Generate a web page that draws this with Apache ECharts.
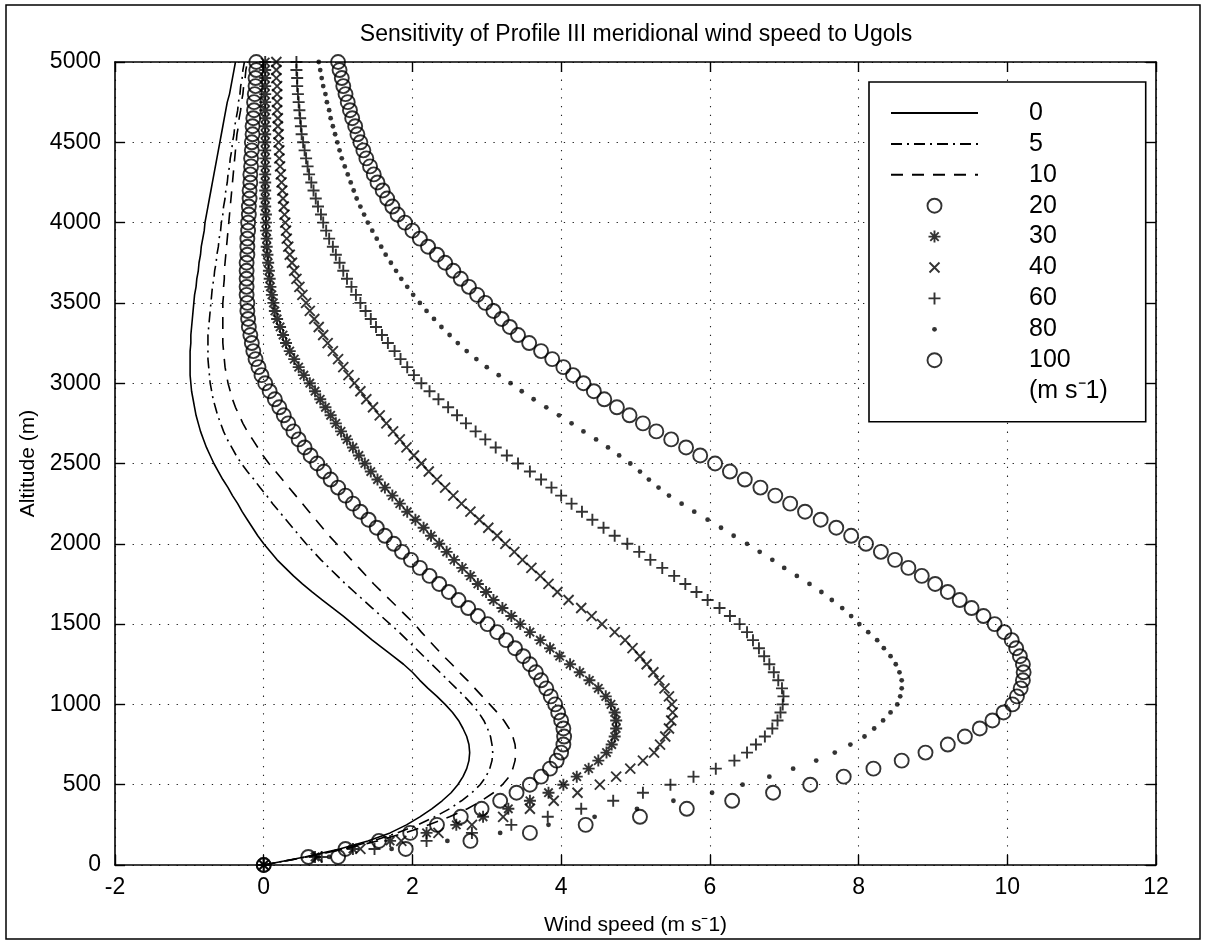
<!DOCTYPE html>
<html><head><meta charset="utf-8">
<script src="https://cdn.jsdelivr.net/npm/echarts@6/dist/echarts.min.js"></script>
<style>html,body{margin:0;padding:0;background:#fff}#c{width:1206px;height:941px}</style>
</head><body><div id="c"></div>
<script>
// Altitude levels (m)
const altitude = [
0,50,100,150,200,250,300,350,400,450,
500,550,600,650,700,750,800,850,900,950,
1000,1050,1100,1150,1200,1250,1300,1350,1400,1450,
1500,1550,1600,1650,1700,1750,1800,1850,1900,1950,
2000,2050,2100,2150,2200,2250,2300,2350,2400,2450,
2500,2550,2600,2650,2700,2750,2800,2850,2900,2950,
3000,3050,3100,3150,3200,3250,3300,3350,3400,3450,
3500,3550,3600,3650,3700,3750,3800,3850,3900,3950,
4000,4050,4100,4150,4200,4250,4300,4350,4400,4450,
4500,4550,4600,4650,4700,4750,4800,4850,4900,4950,
5000];

// Wind speed (m/s) for each Ugols value
const u0 = [
0,0.55,1.02,1.40,1.70,1.92,2.10,2.26,2.40,2.52,
2.61,2.68,2.73,2.76,2.77,2.76,2.73,2.68,2.62,2.54,
2.44,2.33,2.21,2.10,2.00,1.88,1.74,1.60,1.46,1.33,
1.20,1.07,0.93,0.79,0.65,0.52,0.40,0.29,0.18,0.09,
0.00,-0.08,-0.15,-0.22,-0.29,-0.35,-0.42,-0.48,-0.55,-0.61,
-0.67,-0.72,-0.77,-0.81,-0.85,-0.88,-0.91,-0.93,-0.95,-0.97,
-0.98,-0.99,-0.99,-0.99,-0.99,-0.98,-0.98,-0.97,-0.96,-0.95,
-0.94,-0.93,-0.91,-0.90,-0.88,-0.87,-0.85,-0.84,-0.82,-0.80,
-0.79,-0.77,-0.75,-0.73,-0.71,-0.69,-0.67,-0.65,-0.63,-0.61,
-0.59,-0.57,-0.55,-0.53,-0.51,-0.49,-0.46,-0.44,-0.42,-0.40,
-0.38];
const u5 = [
0,0.57,1.06,1.47,1.80,2.07,2.30,2.50,2.66,2.80,
2.91,2.99,3.04,3.07,3.08,3.07,3.05,3.01,2.96,2.89,
2.80,2.70,2.59,2.48,2.37,2.26,2.15,2.04,1.93,1.82,
1.70,1.58,1.46,1.34,1.22,1.10,0.99,0.88,0.77,0.67,
0.57,0.48,0.39,0.30,0.21,0.12,0.04,-0.05,-0.13,-0.22,
-0.30,-0.37,-0.43,-0.49,-0.54,-0.58,-0.62,-0.65,-0.68,-0.70,
-0.72,-0.73,-0.74,-0.75,-0.75,-0.75,-0.75,-0.74,-0.73,-0.72,
-0.71,-0.70,-0.69,-0.67,-0.66,-0.64,-0.63,-0.61,-0.60,-0.58,
-0.57,-0.55,-0.54,-0.52,-0.51,-0.49,-0.48,-0.46,-0.45,-0.43,
-0.42,-0.40,-0.39,-0.37,-0.35,-0.34,-0.32,-0.31,-0.29,-0.28,
-0.26];
const u10 = [
0,0.58,1.09,1.53,1.90,2.22,2.50,2.74,2.93,3.09,
3.21,3.30,3.35,3.38,3.39,3.38,3.35,3.30,3.23,3.14,
3.04,2.94,2.84,2.74,2.63,2.53,2.42,2.32,2.22,2.12,
2.03,1.92,1.81,1.70,1.59,1.48,1.38,1.28,1.18,1.08,
0.98,0.88,0.79,0.70,0.61,0.52,0.43,0.34,0.25,0.16,
0.07,-0.01,-0.08,-0.15,-0.22,-0.28,-0.33,-0.38,-0.42,-0.45,
-0.48,-0.50,-0.52,-0.53,-0.54,-0.55,-0.55,-0.55,-0.55,-0.55,
-0.55,-0.54,-0.54,-0.53,-0.53,-0.52,-0.51,-0.50,-0.49,-0.48,
-0.47,-0.46,-0.45,-0.44,-0.43,-0.42,-0.41,-0.40,-0.39,-0.38,
-0.37,-0.36,-0.34,-0.33,-0.31,-0.30,-0.28,-0.27,-0.25,-0.24,
-0.22];
const u20 = [
0,0.60,1.10,1.55,1.97,2.33,2.65,2.93,3.18,3.40,
3.58,3.73,3.85,3.94,4.00,4.03,4.04,4.03,4.00,3.96,
3.92,3.86,3.80,3.73,3.66,3.58,3.49,3.38,3.26,3.14,
3.01,2.88,2.75,2.62,2.49,2.36,2.23,2.10,1.98,1.86,
1.75,1.63,1.52,1.41,1.30,1.20,1.10,1.00,0.90,0.81,
0.72,0.63,0.55,0.47,0.40,0.33,0.27,0.21,0.15,0.08,
0.02,-0.03,-0.07,-0.11,-0.14,-0.16,-0.18,-0.20,-0.21,-0.22,
-0.22,-0.23,-0.23,-0.23,-0.23,-0.23,-0.22,-0.22,-0.22,-0.21,
-0.21,-0.20,-0.20,-0.19,-0.19,-0.18,-0.18,-0.17,-0.17,-0.16,
-0.16,-0.15,-0.15,-0.14,-0.13,-0.13,-0.12,-0.11,-0.11,-0.10,
-0.10];
const u30 = [
0,0.69,1.20,1.70,2.19,2.59,2.95,3.29,3.58,3.83,
4.03,4.21,4.37,4.50,4.61,4.68,4.72,4.74,4.74,4.72,
4.67,4.60,4.50,4.38,4.25,4.12,3.98,3.85,3.72,3.58,
3.45,3.33,3.21,3.09,2.99,2.88,2.78,2.67,2.56,2.46,
2.36,2.25,2.15,2.04,1.93,1.83,1.73,1.63,1.53,1.44,
1.36,1.28,1.20,1.12,1.04,0.97,0.90,0.83,0.76,0.69,
0.62,0.54,0.47,0.41,0.35,0.30,0.26,0.22,0.18,0.15,
0.13,0.11,0.09,0.08,0.07,0.06,0.05,0.04,0.04,0.03,
0.03,0.03,0.02,0.02,0.02,0.02,0.02,0.02,0.02,0.02,
0.02,0.02,0.02,0.02,0.02,0.02,0.02,0.02,0.02,0.02,
0.02];
const u40 = [
0,0.72,1.30,1.85,2.35,2.80,3.22,3.58,3.90,4.22,
4.52,4.74,4.93,5.10,5.25,5.33,5.40,5.45,5.48,5.50,
5.49,5.45,5.39,5.32,5.24,5.15,5.06,4.96,4.86,4.72,
4.55,4.41,4.27,4.10,3.95,3.83,3.72,3.60,3.48,3.37,
3.25,3.14,3.02,2.90,2.78,2.66,2.55,2.44,2.33,2.22,
2.12,2.02,1.92,1.83,1.74,1.65,1.56,1.47,1.38,1.30,
1.22,1.14,1.07,1.00,0.93,0.86,0.80,0.74,0.68,0.62,
0.57,0.52,0.48,0.44,0.41,0.38,0.35,0.33,0.31,0.30,
0.29,0.28,0.27,0.26,0.25,0.24,0.23,0.22,0.21,0.21,
0.20,0.20,0.19,0.19,0.18,0.18,0.18,0.18,0.17,0.17,
0.17];
const u60 = [
0,0.78,1.49,2.19,2.80,3.33,3.82,4.27,4.70,5.10,
5.47,5.78,6.08,6.33,6.50,6.62,6.74,6.84,6.91,6.95,
6.98,6.99,6.97,6.92,6.86,6.80,6.73,6.66,6.58,6.50,
6.40,6.27,6.13,5.97,5.82,5.67,5.52,5.36,5.20,5.05,
4.89,4.72,4.57,4.42,4.28,4.14,4.00,3.87,3.73,3.58,
3.42,3.27,3.12,2.98,2.85,2.72,2.60,2.48,2.35,2.23,
2.12,2.02,1.93,1.84,1.76,1.67,1.59,1.51,1.44,1.37,
1.30,1.24,1.18,1.12,1.07,1.02,0.97,0.93,0.88,0.84,
0.80,0.77,0.73,0.70,0.67,0.64,0.61,0.59,0.57,0.55,
0.53,0.51,0.50,0.49,0.48,0.47,0.46,0.45,0.45,0.44,
0.44];
const u80 = [
0,0.88,1.72,2.47,3.18,3.83,4.45,5.02,5.51,6.03,
6.44,6.80,7.12,7.43,7.68,7.89,8.08,8.21,8.33,8.43,
8.52,8.56,8.58,8.58,8.55,8.50,8.43,8.34,8.25,8.13,
8.01,7.90,7.78,7.64,7.50,7.34,7.17,7.00,6.84,6.67,
6.50,6.32,6.15,5.97,5.79,5.62,5.45,5.31,5.18,5.06,
4.93,4.78,4.63,4.47,4.30,4.14,3.97,3.80,3.63,3.47,
3.32,3.16,3.00,2.86,2.73,2.61,2.50,2.39,2.29,2.19,
2.10,2.01,1.93,1.85,1.78,1.71,1.64,1.58,1.52,1.46,
1.40,1.35,1.30,1.25,1.21,1.17,1.13,1.09,1.05,1.02,
0.99,0.96,0.93,0.90,0.88,0.85,0.83,0.80,0.78,0.76,
0.74];
const u100 = [
0,1.00,1.91,2.78,3.58,4.33,5.06,5.69,6.30,6.85,
7.35,7.80,8.20,8.58,8.90,9.20,9.43,9.63,9.80,9.95,
10.07,10.13,10.18,10.21,10.22,10.21,10.17,10.12,10.06,9.96,
9.83,9.68,9.52,9.36,9.20,9.03,8.85,8.67,8.49,8.30,
8.10,7.90,7.70,7.49,7.28,7.08,6.88,6.68,6.47,6.27,
6.07,5.87,5.68,5.48,5.28,5.10,4.92,4.75,4.58,4.44,
4.30,4.16,4.03,3.88,3.73,3.57,3.42,3.31,3.20,3.09,
2.98,2.87,2.76,2.65,2.55,2.44,2.33,2.21,2.10,2.00,
1.90,1.80,1.73,1.66,1.60,1.53,1.48,1.43,1.38,1.34,
1.30,1.26,1.23,1.19,1.16,1.13,1.10,1.07,1.05,1.02,
1.00];

const xTicks = [-2, 0, 2, 4, 6, 8, 10, 12];
const yTicks = [0, 500, 1000, 1500, 2000, 2500, 3000, 3500, 4000, 4500, 5000];
const seriesNames = ['0', '5', '10', '20', '30', '40', '60', '80', '100'];
const titleText = 'Sensitivity of Profile III meridional wind speed to Ugols';
const unitText = '(m s\u207B1)';

const FONT = 'Liberation Sans, Arial, Helvetica, sans-serif';
const SYM = {
  circle: 'path://M14,7A7,7,0,1,1,0,7A7,7,0,1,1,14,7Z',
  cross: 'path://M0,0M14,14M2,2L12,12M12,2L2,12',
  plus: 'path://M0,0M14,14M7,1L7,13M1,7L13,7',
  star: 'path://M0,0M14,14M7,1L7,13M1,7L13,7M2.8,2.8L11.2,11.2M11.2,2.8L2.8,11.2',
  dot: 'path://M0,0M14,14M9.4,7A2.4,2.4,0,1,1,4.6,7A2.4,2.4,0,1,1,9.4,7Z'
};
const pairs = vals => vals.map((v, i) => [v, altitude[i]]);

function lineSer(name, vals, dash) {
  return { name, type: 'line', data: pairs(vals), symbol: 'none', showSymbol: false,
    lineStyle: { color: '#000', width: 1.6, type: dash }, animation: false, z: 3 };
}
const hollow = { color: 'none', borderColor: '#000', borderWidth: 1.9 };
const filled = { color: '#000', borderWidth: 0 };
function markSer(name, vals, sym, isFilled) {
  return { name, type: 'scatter', data: pairs(vals), symbol: sym, symbolSize: 14,
    itemStyle: isFilled ? filled : hollow, animation: false, z: 3 };
}

const series = [
  lineSer('0', u0, 'solid'),
  lineSer('5', u5, [11, 5, 2, 5]),
  lineSer('10', u10, [12, 9]),
  markSer('20', u20, SYM.circle, false),
  markSer('30', u30, SYM.star, false),
  markSer('40', u40, SYM.cross, false),
  markSer('60', u60, SYM.plus, false),
  markSer('80', u80, SYM.dot, true),
  markSer('100', u100, SYM.circle, false)
];

const legendData = seriesNames.map((n, i) => i < 3
  ? { name: n, itemStyle: { opacity: 0 } }
  : { name: n, itemStyle: n === '80' ? filled : hollow });

const axisCommon = {
  type: 'value',
  axisLine: { show: true, onZero: false, lineStyle: { color: '#000', width: 1.6 } },
  axisTick: { show: true, inside: true, length: 10, lineStyle: { color: '#000', width: 1.4 } },
  splitLine: { show: false }
};
const gridDots = { show: true, lineStyle: { color: '#222', width: 1.1, type: [1.3, 7.5] } };

const chart = echarts.init(document.getElementById('c'), null, { renderer: 'canvas' });
chart.setOption({
  backgroundColor: '#fff',
  animation: false,
  grid: { left: 115, right: 50, top: 62, bottom: 73, containLabel: false },
  xAxis: [
    Object.assign({}, axisCommon, {
      position: 'bottom', min: xTicks[0], max: xTicks[xTicks.length - 1], interval: 2,
      name: 'Wind speed ' + unitText, nameLocation: 'middle', nameGap: 50,
      nameTextStyle: { fontFamily: FONT, fontSize: 21, color: '#000' },
      axisLabel: { fontFamily: FONT, fontSize: 23, color: '#000', margin: 11,
        formatter: v => String(v) },
      splitLine: gridDots
    }),
    Object.assign({}, axisCommon, {
      position: 'top', min: xTicks[0], max: xTicks[xTicks.length - 1], interval: 2,
      axisLabel: { show: false }
    })
  ],
  yAxis: [
    Object.assign({}, axisCommon, {
      position: 'left', min: yTicks[0], max: yTicks[yTicks.length - 1], interval: 500,
      name: 'Altitude (m)', nameLocation: 'middle', nameGap: 74,
      nameTextStyle: { fontFamily: FONT, fontSize: 21, color: '#000' },
      axisLabel: { fontFamily: FONT, fontSize: 23, color: '#000', margin: 14,
        formatter: v => String(v) },
      splitLine: gridDots
    }),
    Object.assign({}, axisCommon, {
      position: 'right', min: yTicks[0], max: yTicks[yTicks.length - 1], interval: 500,
      axisLabel: { show: false }
    })
  ],
  legend: {
    data: legendData, orient: 'vertical', left: 869, top: 82,
    padding: [18.5, 75, 49, 21], itemWidth: 87, itemHeight: 14, itemGap: 5.9,
    borderColor: '#000', borderWidth: 1.6, backgroundColor: '#fff',
    selectedMode: false,
    textStyle: { fontFamily: FONT, fontSize: 25, color: '#000', padding: [0, 0, 0, 46] }
  },
  graphic: [
    { type: 'rect', z: 0, silent: true, shape: { x: 6, y: 5, width: 1194, height: 934 },
      style: { fill: 'none', stroke: '#000', lineWidth: 1.5 } },
    { type: 'text', x: 636, y: 35, z: 10, silent: true,
      style: { text: titleText, fontFamily: FONT, fontSize: 23, fill: '#000',
        textAlign: 'center', textVerticalAlign: 'middle' } },
    { type: 'text', x: 1029, y: 391, z: 10, silent: true,
      style: { text: unitText, fontFamily: FONT, fontSize: 25, fill: '#000',
        textAlign: 'left', textVerticalAlign: 'middle' } }
  ],
  series
});
</script></body></html>
